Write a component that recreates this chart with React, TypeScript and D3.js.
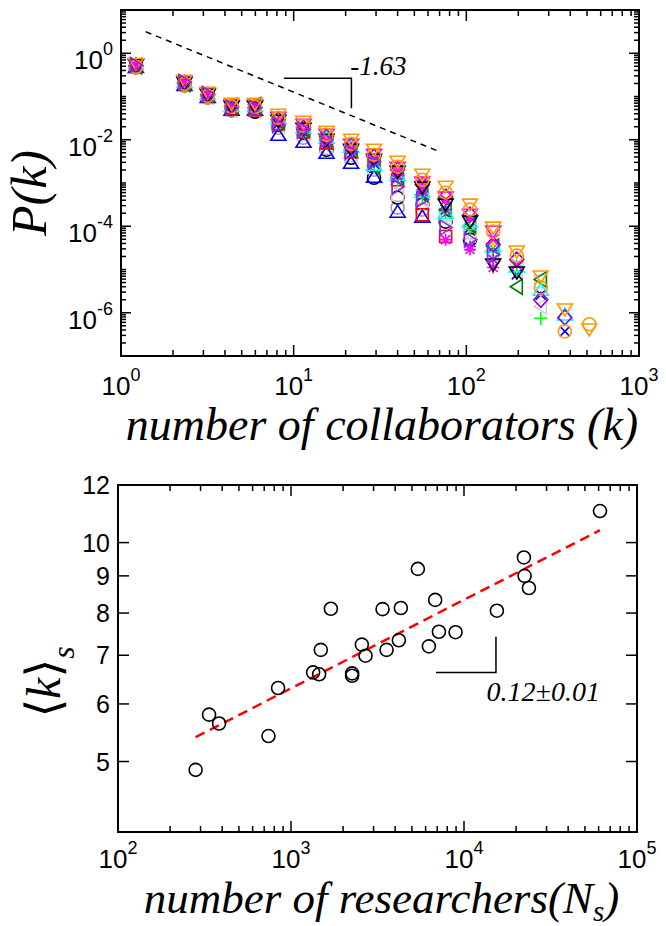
import React from 'react';
import * as d3 from 'd3';

// ---------- top panel data: P(k) for many fields ----------
const K = [1.22, 2.33, 3.18, 4.37, 5.97, 8.15, 11.4, 15.5, 21.5, 29.2, 40, 55.6, 75.9, 105, 143, 196, 270, 372, 515];

const pOrangeTriDown = [0.566, 0.23, 0.121, 0.0676, 0.0676, 0.0377, 0.026, 0.0153, 0.00998, 0.00587, 0.0031, 0.00155, 0.000822, 0.000316, 9.3e-5, 2.6e-5, 6.9e-6, 1.19e-6, 4.1e-7];
const pOrangeCircle = [0.483, 0.196, 0.1035, 0.0577, 0.0577, 0.0321, 0.021, 0.013, 0.00807, 0.0045, 0.00238, 0.00119, 0.000597, 0.000242, 7.5e-5, 2.1e-5, 3.8e-6, 3.7e-7, 5.4e-7];
const pBlueTriUp = [0.483, 0.186, 0.098, 0.0492, 0.0492, 0.013, 0.00897, 0.005, 0.00294, 0.0014, 0.000217, 0.000167, null, null, null, null, null, null, null];
const pBrownCircle = [0.458, 0.176, 0.093, 0.0467, 0.0467, 0.0189, 0.0111, 0.00653, 0.00384, 0.00203, 0.000269, 0.000242, null, null, null, null, null, null, null];
const pBlackCircle = [0.509, 0.196, 0.1035, 0.0492, 0.0443, 0.0222, 0.0145, 0.00587, 0.00384, 0.00132, 0.000458, 0.000316, 0.000128, 4.9e-5, null, null, null, null, null];
const pGraySquare = [0.483, 0.186, 0.098, 0.0492, 0.0492, 0.0199, 0.013, 0.00653, 0.00427, 0.00225, 0.000537, 0.000316, 0.000185, 7.1e-5, 2.9e-5, 1.53e-5, 5.3e-6, null, null];
const pPurpleTriRight = [0.537, 0.218, 0.115, 0.0547, 0.0547, 0.0222, 0.017, 0.00998, 0.00528, 0.0031, 0.000822, 0.000412, 9.3e-5, 4.9e-5, 2.2e-5, null, null, null, null];
const pPurpleDiamond = [0.509, 0.206, 0.109, 0.0577, 0.0547, 0.0289, 0.0189, 0.0117, 0.00726, 0.00405, 0.00203, 0.000914, 0.000483, 0.000185, 3.8e-5, 1.7e-5, 2.0e-6, 7.8e-7, null];
const pMagentaX = [0.537, 0.218, 0.115, 0.0608, 0.0608, 0.0289, 0.0199, 0.0111, 0.00689, 0.00405, 0.00203, 0.00102, 0.000412, 0.000158, 4.9e-5, 1.3e-5, null, null, null];
const pMagentaStar = [0.509, 0.206, 0.109, 0.0577, 0.0577, 0.026, 0.017, 0.00897, 0.00653, 0.00345, 0.00155, 0.0007, 4.9e-5, 2.9e-5, 1.11e-5, null, null, null, null];
const pCyanTriUp = [0.566, 0.218, 0.115, 0.0608, 0.0608, 0.0321, 0.0189, 0.0111, 0.00689, 0.00264, 0.00155, 0.00063, 0.000206, 0.000128, 3.4e-5, 1.17e-5, 3.4e-6, 9.1e-7, null];
const pGreenTriLeft = [0.509, 0.196, 0.109, 0.0608, 0.0641, 0.026, 0.017, 0.00998, 0.00587, 0.00238, 0.00132, 0.000537, 0.000242, 0.000103, 3.4e-5, 4.0e-6, 5.9e-6, null, null];
const pLimePlus = [0.509, 0.206, 0.109, 0.0547, 0.0547, 0.0247, 0.0161, 0.00897, 0.00556, 0.00294, 0.00119, 0.000483, 0.000217, 8.4e-5, 2.9e-5, 9.0e-6, 7.4e-7, null, null];
const pBlueX = [0.483, 0.196, 0.1035, 0.0519, 0.0519, 0.0234, 0.0153, 0.00766, 0.00474, 0.00279, 0.00132, 0.000509, 0.000242, 9.3e-5, 3.2e-5, 7.7e-6, 2.6e-6, 3.7e-7, null];
const pRedSquare = [0.509, 0.196, 0.1035, 0.0519, 0.0492, 0.0234, 0.0153, 0.00851, 0.00528, 0.00264, 0.00119, 0.000185, 5.8e-5, null, null, null, null, null, null];
const pBlackTriDown = [0.537, 0.206, 0.109, 0.0577, 0.0577, 0.0274, 0.0179, 0.00998, 0.00587, 0.00345, 0.00182, 0.00078, 0.000316, 0.000128, 1.3e-5, 8.5e-6, null, null, null];
const pMagentaTriDown = [0.537, 0.218, 0.115, 0.0608, 0.0608, 0.0321, 0.0222, 0.013, 0.00766, 0.0045, 0.00225, 0.00102, 0.000458, 0.000185, 7.5e-5, null, null, null, null];
const pYellowDot = [0.509, 0.206, 0.109, 0.0577, 0.0577, 0.0289, 0.0189, 0.0111, 0.00689, 0.00384, 0.00203, 0.000914, 0.000412, 0.000142, 3.8e-5, null, null, null, null];
const pGrayTriLeft = [0.483, 0.186, 0.098, 0.0492, 0.0492, 0.021, 0.0137, 0.00726, 0.0045, 0.00238, 0.000914, 0.000412, 0.000158, 6.4e-5, 2.2e-5, 1.0e-5, 1.4e-6, null, null];
const pPurpleStar = [0.509, 0.196, 0.1035, 0.0547, 0.0547, 0.026, 0.017, 0.00998, 0.00587, 0.0031, 0.00147, 0.00063, 0.000242, 3.4e-5, 1.7e-5, null, null, null, null];

const SERIES = [
  { values: pBrownCircle, marker: 'circle', color: '#BC8F8F' },
  { values: pBlackCircle, marker: 'circle', color: '#000000' },
  { values: pGraySquare, marker: 'square', color: '#D0D0D0' },
  { values: pGrayTriLeft, marker: 'triLeft', color: '#D0D0D0' },
  { values: pBlueTriUp, marker: 'triUp', color: '#0000FF' },
  { values: pBlueX, marker: 'x', color: '#0000FF' },
  { values: pRedSquare, marker: 'square', color: '#FF0000' },
  { values: pGreenTriLeft, marker: 'triLeft', color: '#008000' },
  { values: pLimePlus, marker: 'plus', color: '#00FF00' },
  { values: pCyanTriUp, marker: 'triUp', color: '#00FFFF' },
  { values: pYellowDot, marker: 'dot', color: '#FFE000' },
  { values: pPurpleStar, marker: 'star', color: '#8A2BE2' },
  { values: pMagentaStar, marker: 'star', color: '#FF00FF' },
  { values: pMagentaX, marker: 'x', color: '#FF00FF' },
  { values: pPurpleDiamond, marker: 'diamond', color: '#9400D3' },
  { values: pMagentaTriDown, marker: 'triDown', color: '#FF00FF' },
  { values: pBlackTriDown, marker: 'triDown', color: '#000000' },
  { values: pOrangeCircle, marker: 'circle', color: '#FF9900' },
  { values: pOrangeTriDown, marker: 'triDown', color: '#FF9900' },
  { values: pPurpleTriRight, marker: 'triRight', color: '#8A2BE2' },
];

// slope guide (top)
const guideK = [1.39, 70];
const guideP = [3.15, 0.00529];
const slopeLabel = '-1.63';

// ---------- bottom panel data ----------
const researchersN = [281, 336, 384, 741, 842, 1342, 1454, 1487, 1700, 2256, 2256, 2567, 2697, 3382, 3568, 4203, 4315, 5410, 6266, 6815, 7161, 8939, 15490, 22200, 22400, 23730, 61100];
const meanK = [4.87, 5.8, 5.64, 5.42, 6.31, 6.63, 6.59, 7.12, 8.11, 6.56, 6.61, 7.24, 6.99, 8.1, 7.12, 7.34, 8.13, 9.2, 7.2, 8.34, 7.54, 7.53, 8.06, 9.54, 9.0, 8.66, 11.05];
const fitN = [281, 61100];
const fitK = [5.4, 10.4];
const fitLabel = '0.12\u00B10.01';

// tick labels
const topXTicks = [1, 10, 100, 1000];
const topXExp = ['0', '1', '2', '3'];
const topYTicks = [1, 1e-2, 1e-4, 1e-6];
const topYExp = ['0', '-2', '-4', '-6'];
const botXTicks = [100, 1000, 10000, 100000];
const botXExp = ['2', '3', '4', '5'];
const botYTicks = [5, 6, 7, 8, 9, 10, 12];

const SANS = '"Liberation Sans", Arial, Helvetica, sans-serif';
const SERIF = '"Liberation Serif", "Times New Roman", "DejaVu Serif", serif';

function Marker({ type, x, y, color }: { type: string; x: number; y: number; color: string }) {
  const sw = 1.6;
  const common = { fill: 'none', stroke: color, strokeWidth: sw } as any;
  switch (type) {
    case 'circle':
      return <circle cx={x} cy={y} r={6.5} {...common} />;
    case 'square':
      return <rect x={x - 6} y={y - 6} width={12} height={12} {...common} />;
    case 'diamond':
      return <path d={`M${x},${y - 7.5}L${x + 7},${y}L${x},${y + 7.5}L${x - 7},${y}Z`} {...common} />;
    case 'triUp':
      return <path d={`M${x},${y - 6.5}L${x + 7.5},${y + 5.5}L${x - 7.5},${y + 5.5}Z`} {...common} />;
    case 'triDown':
      return <path d={`M${x},${y + 6.5}L${x + 7.5},${y - 5.5}L${x - 7.5},${y - 5.5}Z`} {...common} />;
    case 'triLeft':
      return <path d={`M${x - 6.5},${y}L${x + 5.5},${y - 7.5}L${x + 5.5},${y + 7.5}Z`} {...common} />;
    case 'triRight':
      return <path d={`M${x + 6.5},${y}L${x - 5.5},${y - 7.5}L${x - 5.5},${y + 7.5}Z`} {...common} />;
    case 'x':
      return <path d={`M${x - 5},${y - 5}L${x + 5},${y + 5}M${x - 5},${y + 5}L${x + 5},${y - 5}`} {...common} />;
    case 'plus':
      return <path d={`M${x - 6.5},${y}L${x + 6.5},${y}M${x},${y - 6.5}L${x},${y + 6.5}`} {...common} />;
    case 'star':
      return (
        <path
          d={`M${x - 6},${y}L${x + 6},${y}M${x},${y - 6}L${x},${y + 6}M${x - 4.5},${y - 4.5}L${x + 4.5},${y + 4.5}M${x - 4.5},${y + 4.5}L${x + 4.5},${y - 4.5}`}
          {...common}
        />
      );
    case 'dot':
      return <path d={`M${x},${y - 4}L${x + 3},${y}L${x},${y + 4}L${x - 3},${y}Z`} fill={color} stroke="none" />;
    default:
      return null;
  }
}

function PowLabel({ x, y, exp, anchor, fs = 26, efs = 18, dy = -14 }: any) {
  return (
    <text x={x} y={y} textAnchor={anchor} fontFamily={SANS} fontSize={fs} fill="#000">
      <tspan>10</tspan>
      <tspan dy={dy} fontSize={efs}>{exp}</tspan>
    </text>
  );
}

export default function App() {
  // top panel geometry
  const tL = 121, tR = 639, tT = 10, tB = 356;
  const tx = d3.scaleLog().domain([1, 1000]).range([tL, tR]);
  const ty = d3.scaleLog().domain([1e-7, 10]).range([tB, tT]);

  // bottom panel geometry
  const bL = 118, bR = 637, bT = 485, bB = 832;
  const bx = d3.scaleLog().domain([100, 1e5]).range([bL, bR]);
  const by = d3.scaleLog().domain([4, 12]).range([bB, bT]);

  const topXMinor: number[] = [];
  for (let e = 0; e < 3; e++) for (let m = 2; m <= 9; m++) topXMinor.push(m * Math.pow(10, e));
  const topYMinor: number[] = [];
  for (let e = -7; e <= 0; e++) for (let m = 1; m <= 9; m++) {
    const v = m * Math.pow(10, e);
    if (m === 1 && e % 2 === 0) continue;
    if (v > 10) continue;
    topYMinor.push(v);
  }
  const botXMinor: number[] = [];
  for (let e = 2; e < 5; e++) for (let m = 2; m <= 9; m++) botXMinor.push(m * Math.pow(10, e));

  const guideLine = d3.line<number>().x((_, i) => tx(guideK[i])).y((d) => ty(d))(guideP) as string;
  const fitLine = d3.line<number>().x((_, i) => bx(fitN[i])).y((d) => by(d))(fitK) as string;

  const tick = { stroke: '#000', strokeWidth: 1.5 };

  return (
    <svg width={666} height={926} style={{ position: 'absolute', left: 0, top: 0, display: 'block', background: '#fff' }}>
      {/* ================= TOP PANEL ================= */}
      <g>
        {topXTicks.map((v) => (
          <g key={'tx' + v}>
            <line x1={tx(v)} x2={tx(v)} y1={tB} y2={tB - 11} {...tick} />
            <line x1={tx(v)} x2={tx(v)} y1={tT} y2={tT + 11} {...tick} />
          </g>
        ))}
        {topXMinor.map((v) => (
          <g key={'txm' + v}>
            <line x1={tx(v)} x2={tx(v)} y1={tB} y2={tB - 6} {...tick} />
            <line x1={tx(v)} x2={tx(v)} y1={tT} y2={tT + 6} {...tick} />
          </g>
        ))}
        {topYTicks.map((v) => (
          <g key={'ty' + v}>
            <line x1={tL} x2={tL + 10} y1={ty(v)} y2={ty(v)} {...tick} />
            <line x1={tR} x2={tR - 10} y1={ty(v)} y2={ty(v)} {...tick} />
          </g>
        ))}
        {topYMinor.map((v) => (
          <g key={'tym' + v}>
            <line x1={tL} x2={tL + 5} y1={ty(v)} y2={ty(v)} {...tick} />
            <line x1={tR} x2={tR - 5} y1={ty(v)} y2={ty(v)} {...tick} />
          </g>
        ))}
        {topXTicks.map((v, i) => (
          <PowLabel key={'txl' + v} x={tx(v)} y={tB + 39} exp={topXExp[i]} anchor="middle" />
        ))}
        {topYTicks.map((v, i) => (
          <PowLabel key={'tyl' + v} x={tL - 8} y={ty(v) + 16} exp={topYExp[i]} anchor="end" />
        ))}
        <path d={guideLine} fill="none" stroke="#000" strokeWidth={1.5} strokeDasharray="6,5" />
        <path
          d={`M${tx(8.77)},${ty(0.265)}L${tx(21.6)},${ty(0.265)}L${tx(21.6)},${ty(0.0538)}`}
          fill="none"
          stroke="#000"
          strokeWidth={1.5}
        />
        <text x={tx(21.3)} y={ty(0.316)} fontFamily={SERIF} fontStyle="italic" fontSize={27} fill="#000">
          {slopeLabel}
        </text>
        {SERIES.map((s, si) => (
          <g key={'s' + si}>
            {s.values.map((p, i) =>
              p == null ? null : <Marker key={i} type={s.marker} x={tx(K[i])} y={ty(p)} color={s.color} />
            )}
          </g>
        ))}
        <rect x={tL} y={tT} width={tR - tL} height={tB - tT} fill="none" stroke="#000" strokeWidth={2} />
        <text x={(tL + tR) / 2 + 2} y={440} textAnchor="middle" fontFamily={SERIF} fontStyle="italic" fontSize={46} fill="#000">
          number of collaborators (k)
        </text>
        <text
          transform={`translate(46,${(tT + tB) / 2 + 10}) rotate(-90)`}
          textAnchor="middle"
          fontFamily={SERIF}
          fontStyle="italic"
          fontSize={50}
          fill="#000"
        >
          P(k)
        </text>
      </g>

      {/* ================= BOTTOM PANEL ================= */}
      <g>
        {botXTicks.map((v) => (
          <g key={'bx' + v}>
            <line x1={bx(v)} x2={bx(v)} y1={bB} y2={bB - 11} {...tick} />
            <line x1={bx(v)} x2={bx(v)} y1={bT} y2={bT + 11} {...tick} />
          </g>
        ))}
        {botXMinor.map((v) => (
          <g key={'bxm' + v}>
            <line x1={bx(v)} x2={bx(v)} y1={bB} y2={bB - 6} {...tick} />
            <line x1={bx(v)} x2={bx(v)} y1={bT} y2={bT + 6} {...tick} />
          </g>
        ))}
        {botYTicks.map((v) => (
          <g key={'by' + v}>
            <line x1={bL} x2={bL + 11} y1={by(v)} y2={by(v)} {...tick} />
            <line x1={bR} x2={bR - 11} y1={by(v)} y2={by(v)} {...tick} />
          </g>
        ))}
        {botXTicks.map((v, i) => (
          <PowLabel key={'bxl' + v} x={bx(v)} y={bB + 36} exp={botXExp[i]} anchor="middle" />
        ))}
        {botYTicks.map((v) => (
          <text key={'byl' + v} x={bL - 8} y={by(v) + 9} textAnchor="end" fontFamily={SANS} fontSize={25} fill="#000">
            {v}
          </text>
        ))}
        <path d={fitLine} fill="none" stroke="#FF0000" strokeWidth={2.5} strokeDasharray="10,6" />
        <path
          d={`M${bx(6890)},${by(6.63)}L${bx(15300)},${by(6.63)}L${bx(15300)},${by(7.42)}`}
          fill="none"
          stroke="#000"
          strokeWidth={1.5}
        />
        <text x={bx(13500)} y={by(6.05)} fontFamily={SERIF} fontStyle="italic" fontSize={28} fill="#000">
          {fitLabel}
        </text>
        {researchersN.map((n, i) => (
          <circle key={'c' + i} cx={bx(n)} cy={by(meanK[i])} r={6.5} fill="none" stroke="#000" strokeWidth={1.6} />
        ))}
        <rect x={bL} y={bT} width={bR - bL} height={bB - bT} fill="none" stroke="#000" strokeWidth={2} />
        <text x={(bL + bR) / 2 + 4} y={913} textAnchor="middle" fontFamily={SERIF} fontStyle="italic" fontSize={45} fill="#000">
          number of researchers(N
          <tspan fontSize={29} dy={8}>s</tspan>
          <tspan dy={-8}>)</tspan>
        </text>
        <text
          transform={`translate(60,${682}) rotate(-90)`}
          textAnchor="middle"
          fontFamily={SERIF}
          fontSize={48}
          fill="#000"
        >
          <tspan>{'\u27E8'}</tspan>
          <tspan fontStyle="italic">k</tspan>
          <tspan>{'\u27E9'}</tspan>
          <tspan fontStyle="italic" fontSize={32} dy={14}>s</tspan>
        </text>
      </g>
    </svg>
  );
}
